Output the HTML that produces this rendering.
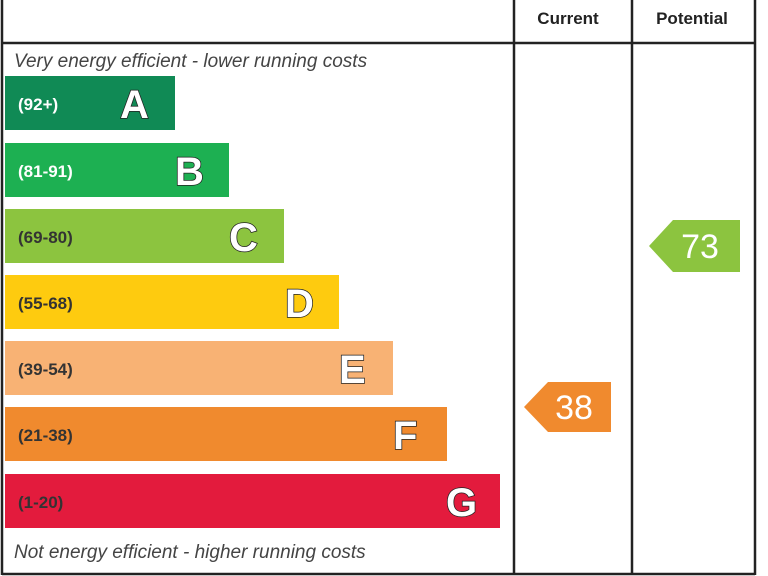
<!DOCTYPE html>
<html><head><style>
body{margin:0;width:768px;height:576px;background:#fff;overflow:hidden;font-family:"Liberation Sans",sans-serif}
svg{display:block}
.r{font-size:17px;font-weight:bold;fill:#fff}
.rd{font-size:17px;font-weight:bold;fill:#333}
.L{font-size:40px;font-weight:bold;fill:#fff;stroke:#222;stroke-width:1.5;paint-order:stroke}
.i{font-size:19px;font-style:italic;fill:#444}
</style></head><body>
<svg width="768" height="576">
<g stroke="#222" stroke-width="2.5" fill="none">
<line x1="2" y1="0" x2="2" y2="575"/>
<line x1="755" y1="0" x2="755" y2="575"/>
<line x1="514" y1="0" x2="514" y2="575"/>
<line x1="632" y1="0" x2="632" y2="575"/>
<line x1="2" y1="43" x2="755" y2="43"/>
<line x1="2" y1="574" x2="755" y2="574"/>
</g>
<text x="568" y="24" text-anchor="middle" font-size="17" font-weight="bold" fill="#222">Current</text>
<text x="692" y="24" text-anchor="middle" font-size="17" font-weight="bold" fill="#222">Potential</text>
<text x="14" y="67" class="i">Very energy efficient - lower running costs</text>
<text x="14" y="558" class="i">Not energy efficient - higher running costs</text>
<rect x="5" y="76" width="170" height="54" fill="#108a55"/>
<text x="18" y="110" class="r">(92+)</text><text x="120" y="118" class="L">A</text>
<rect x="5" y="143" width="224" height="54" fill="#1db052"/>
<text x="18" y="177" class="r">(81-91)</text><text x="175" y="185" class="L">B</text>
<rect x="5" y="209" width="279" height="54" fill="#8cc43f"/>
<text x="18" y="243" class="rd">(69-80)</text><text x="229" y="251" class="L">C</text>
<rect x="5" y="275" width="334" height="54" fill="#fecb0f"/>
<text x="18" y="309" class="rd">(55-68)</text><text x="285" y="317" class="L">D</text>
<rect x="5" y="341" width="388" height="54" fill="#f8b274"/>
<text x="18" y="375" class="rd">(39-54)</text><text x="339" y="383" class="L">E</text>
<rect x="5" y="407" width="442" height="54" fill="#f08a2e"/>
<text x="18" y="441" class="rd">(21-38)</text><text x="393" y="449" class="L">F</text>
<rect x="5" y="474" width="495" height="54" fill="#e31b3d"/>
<text x="18" y="508" class="rd">(1-20)</text><text x="446" y="516" class="L">G</text>
<polygon points="524,407 548,382 611,382 611,432 548,432" fill="#f08a2e"/>
<text x="574" y="419" text-anchor="middle" font-size="34" fill="#fff">38</text>
<polygon points="649,246 673,220 740,220 740,272 673,272" fill="#8cc43f"/>
<text x="700" y="258" text-anchor="middle" font-size="34" fill="#fff">73</text>
</svg>
</body></html>
